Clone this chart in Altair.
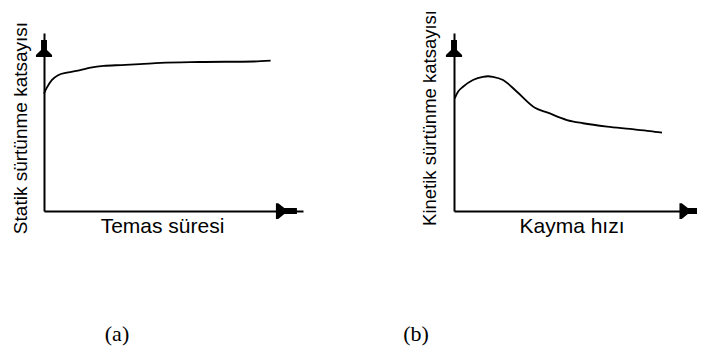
import altair as alt
import pandas as pd

# Panel (a): static friction coefficient vs contact time (arbitrary units)
a_x = [0.0, 0.1, 0.3, 0.55, 0.88, 1.4, 1.8, 2.3, 3.0, 3.7, 4.5, 6.0, 8.1, 8.75]
a_y = [0.66, 0.69, 0.735, 0.763, 0.777, 0.792, 0.805, 0.815, 0.82, 0.825, 0.832, 0.837, 0.84, 0.845]

# Panel (b): kinetic friction coefficient vs sliding speed (arbitrary units)
b_x = [0.03, 0.165, 0.37, 0.78, 1.19, 1.4, 1.6, 2.02, 2.59, 3.33, 3.83, 4.65, 5.31, 6.30, 7.24, 8.07, 8.56]
b_y = [0.633, 0.670, 0.698, 0.736, 0.754, 0.757, 0.754, 0.736, 0.670, 0.580, 0.554, 0.511, 0.493, 0.474, 0.461, 0.449, 0.440]

# Arrowhead positions (data units): up arrow on y axis, right arrow on x axis
a_arrow_x = [0.0, 9.36]
a_arrow_y = [0.913, 0.0]
b_arrow_x = [0.0, 9.71]
b_arrow_y = [0.913, 0.0]
arrow_kind = ["up", "right"]

x_titles = ["Temas süresi", "Kayma hızı"]
y_titles = ["Statik sürtünme katsayısı", "Kinetik sürtünme katsayısı"]
tags = ["(a)", "(b)"]

UP = "M-0.35,-1 L0.35,-1 L0.35,0.18 L0.95,0.76 L0.95,1 L-0.95,1 L-0.95,0.76 L-0.35,0.18 Z"
RIGHT = "M1,-0.28 L1,0.28 L-0.2,0.28 L-0.78,0.75 L-1,0.75 L-1,-0.75 L-0.78,-0.75 L-0.2,-0.28 Z"

W, H = 689, 338
Y_RANGE = [203, 25]


def panel(xs, ys, axx, axy, xrange_px, yaxis_offset):
    df = pd.DataFrame({"x": xs, "y": ys})
    adf = pd.DataFrame({"x": axx, "y": axy, "kind": arrow_kind})
    xsc = alt.Scale(domain=[0, 10], range=xrange_px, nice=False, zero=False)
    ysc = alt.Scale(domain=[0, 1], range=Y_RANGE, nice=False, zero=False)
    xaxis = alt.Axis(title=None, labels=False, ticks=False, grid=False,
                     domainColor="black", domainWidth=2, orient="bottom",
                     offset=-(H - Y_RANGE[0]))
    yaxis = alt.Axis(title=None, labels=False, ticks=False, grid=False,
                     domainColor="black", domainWidth=2, orient="left",
                     offset=-yaxis_offset)
    line = alt.Chart(df).mark_line(color="black", strokeWidth=1.8,
                                   interpolate="monotone").encode(
        x=alt.X("x:Q", scale=xsc, axis=xaxis),
        y=alt.Y("y:Q", scale=ysc, axis=yaxis),
    )
    up = alt.Chart(adf).transform_filter("datum.kind == 'up'").mark_point(
        shape=UP, filled=True, color="black", opacity=1, size=289, strokeWidth=0
    ).encode(x=alt.X("x:Q", scale=xsc, axis=xaxis),
             y=alt.Y("y:Q", scale=ysc, axis=yaxis))
    right = alt.Chart(adf).transform_filter("datum.kind == 'right'").mark_point(
        shape=RIGHT, filled=True, color="black", opacity=1, size=441, strokeWidth=0
    ).encode(x=alt.X("x:Q", scale=xsc, axis=xaxis),
             y=alt.Y("y:Q", scale=ysc, axis=yaxis))
    return alt.layer(line, up, right)


pa = panel(a_x, a_y, a_arrow_x, a_arrow_y, [36, 295], 36)
pb = panel(b_x, b_y, b_arrow_x, b_arrow_y, [446, 689], 446)


def label(txt, x, y, size, font="Liberation Sans", angle=0):
    return alt.Chart(pd.DataFrame({"t": [txt]})).mark_text(
        font=font, fontSize=size, color="black", align="center",
        baseline="alphabetic", angle=angle
    ).encode(x=alt.value(x), y=alt.value(y), text="t:N")


texts = alt.layer(
    label(x_titles[0], 154.5, 225, 21),
    label(x_titles[1], 564, 225, 21),
    label(y_titles[0], 19, 120, 19, angle=270),
    label(y_titles[1], 427.7, 110, 18.5, angle=270),
    label(tags[0], 109, 333, 22, font="Liberation Serif"),
    label(tags[1], 408, 333, 22, font="Liberation Serif"),
)

chart = alt.layer(pa, pb, texts).resolve_scale(
    x="independent", y="independent"
).properties(
    width=W, height=H,
    autosize=alt.AutoSizeParams(type="none"),
    padding=0,
    background="white",
).configure_view(strokeOpacity=0, strokeWidth=0)

chart.save("out.html", embed_options={"renderer": "svg", "actions": False})
